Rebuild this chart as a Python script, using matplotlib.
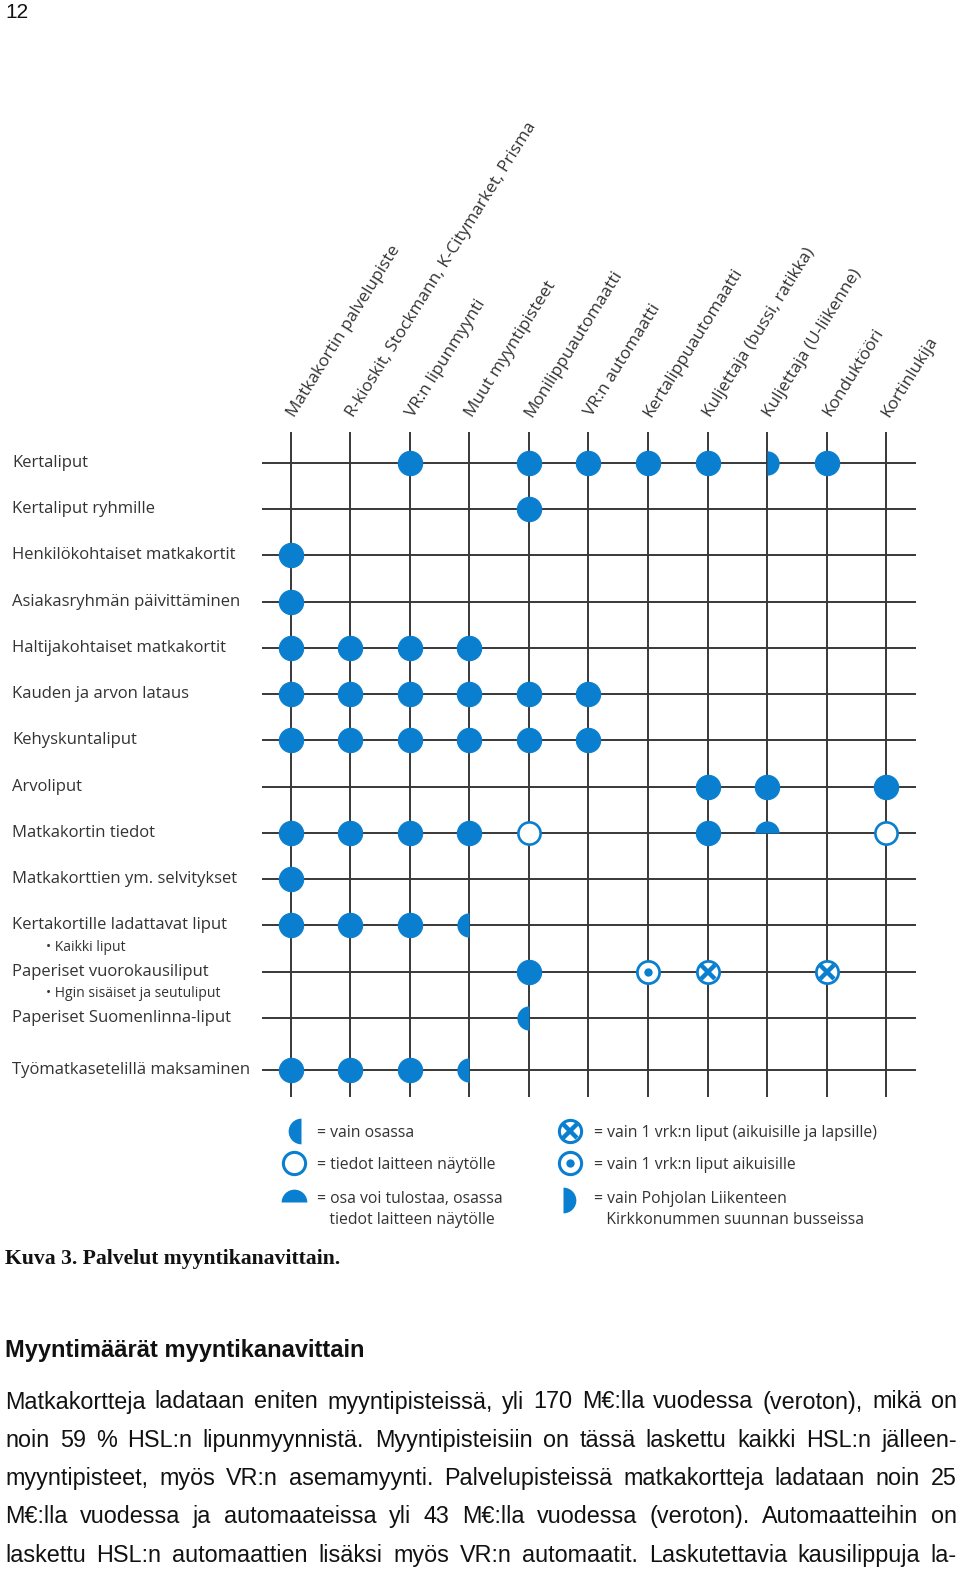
import matplotlib
matplotlib.use("Agg")
import matplotlib.pyplot as plt
import numpy as np

# ---------------- data ----------------
channels = ["Matkakortin palvelupiste", "R-kioskit, Stockmann, K-Citymarket, Prisma",
            "VR:n lipunmyynti", "Muut myyntipisteet", "Monilippuautomaatti",
            "VR:n automaatti", "Kertalippuautomaatti", "Kuljettaja (bussi, ratikka)",
            "Kuljettaja (U-liikenne)", "Konduktööri", "Kortinlukija"]
products = ["Kertaliput", "Kertaliput ryhmille", "Henkilökohtaiset matkakortit",
            "Asiakasryhmän päivittäminen", "Haltijakohtaiset matkakortit",
            "Kauden ja arvon lataus", "Kehyskuntaliput", "Arvoliput",
            "Matkakortin tiedot", "Matkakorttien ym. selvitykset",
            "Kertakortille ladattavat liput", "Paperiset vuorokausiliput",
            "Paperiset Suomenlinna-liput", "Työmatkasetelillä maksaminen"]
sub_notes = {10: "• Kaikki liput", 11: "• Hgin sisäiset ja seutuliput"}

# channel indices per product row, by symbol type
full_marks = [[2, 4, 5, 6, 7, 9], [4], [0], [0], [0, 1, 2, 3], [0, 1, 2, 3, 4, 5],
              [0, 1, 2, 3, 4, 5], [7, 8, 10], [0, 1, 2, 3, 7], [0], [0, 1, 2], [4], [], [0, 1, 2]]
left_half_marks = {10: [3], 12: [4], 13: [3]}      # vain osassa
right_half_marks = {0: [8]}                         # vain Pohjolan Liikenteen ...
top_half_marks = {8: [8]}                           # osa voi tulostaa ...
open_marks = {8: [4, 10]}                           # tiedot laitteen näytölle
cross_marks = {11: [7, 9]}                          # vain 1 vrk:n liput (aik. ja lapsille)
dot_marks = {11: [6]}                               # vain 1 vrk:n liput aikuisille

legend_left = ["= vain osassa", "= tiedot laitteen näytölle",
               "= osa voi tulostaa, osassa\n   tiedot laitteen näytölle"]
legend_right = ["= vain 1 vrk:n liput (aikuisille ja lapsille)",
                "= vain 1 vrk:n liput aikuisille",
                "= vain Pohjolan Liikenteen\n   Kirkkonummen suunnan busseissa"]

caption = "Kuva 3. Palvelut myyntikanavittain."
heading = "Myyntimäärät myyntikanavittain"
body_lines = [
    "Matkakortteja ladataan eniten myyntipisteissä, yli 170 M€:lla vuodessa (veroton), mikä on",
    "noin 59 % HSL:n lipunmyynnistä. Myyntipisteisiin on tässä laskettu kaikki HSL:n jälleen-",
    "myyntipisteet, myös VR:n asemamyynti. Palvelupisteissä matkakortteja ladataan noin 25",
    "M€:lla vuodessa ja automaateissa yli 43 M€:lla vuodessa (veroton). Automaatteihin on",
    "laskettu HSL:n automaattien lisäksi myös VR:n automaatit. Laskutettavia kausilippuja la-",
]

# ---------------- style ----------------
BLUE = "#0a7fcf"
GRID = "#383838"
LABEL_FONT = ["Open Sans", "DejaVu Sans"]
LABEL_COLOR = "#333333"

W, H = 960, 1569
fig = plt.figure(figsize=(W / 100, H / 100), dpi=100)

# page axes in pixel coordinates (for the text of the page)
page = fig.add_axes([0, 0, 1, 1])
page.set_xlim(0, W)
page.set_ylim(H, 0)
page.axis("off")

# grid axes
left_px, right_px, top_px, bot_px = 262, 916, 432, 1097
ax = fig.add_axes([left_px / W, 1 - bot_px / H, (right_px - left_px) / W, (bot_px - top_px) / H])
ncol = len(channels)
row_y = np.arange(len(products), dtype=float)
row_y[-1] += 0.12
col_x = np.arange(ncol)
ax.set_xlim(-0.487, ncol - 1 + 0.504)
ax.set_ylim(row_y[-1] + 0.59, -0.67)
ax.set_facecolor("none")
for s in ax.spines.values():
    s.set_visible(False)

ax.hlines(row_y, *ax.get_xlim(), color=GRID, lw=1.4, zorder=1)
ax.vlines(col_x, *ax.get_ylim(), color=GRID, lw=1.4, zorder=1)

MS = 17.5  # marker size in points
for r, cols in enumerate(full_marks):
    if cols:
        ax.plot(cols, [row_y[r]] * len(cols), "o", ms=MS, mfc=BLUE, mec=BLUE, mew=0.8,
                ls="none", zorder=3)


def half(marks, style):
    for r, cols in marks.items():
        ax.plot(cols, [row_y[r]] * len(cols), "o", ms=MS, fillstyle=style, mfc=BLUE,
                mfcalt="none", mew=0, ls="none", zorder=3)


half(left_half_marks, "left")
half(right_half_marks, "right")
half(top_half_marks, "top")

for r, cols in open_marks.items():
    ax.plot(cols, [row_y[r]] * len(cols), "o", ms=MS - 1.5, mfc="white", mec=BLUE, mew=1.9,
            ls="none", zorder=3)
for r, cols in cross_marks.items():
    ax.plot(cols, [row_y[r]] * len(cols), "o", ms=MS - 1.5, mfc="white", mec=BLUE, mew=2.0,
            ls="none", zorder=3)
    ax.plot(cols, [row_y[r]] * len(cols), "x", ms=MS - 8, mec=BLUE, mew=3.2,
            ls="none", zorder=4)
for r, cols in dot_marks.items():
    ax.plot(cols, [row_y[r]] * len(cols), "o", ms=MS - 1.5, mfc="white", mec=BLUE, mew=2.0,
            ls="none", zorder=3)
    ax.plot(cols, [row_y[r]] * len(cols), "o", ms=6, mfc=BLUE, mec=BLUE, mew=0,
            ls="none", zorder=4)

# column labels (top ticks)
ax.xaxis.set_ticks_position("top")
ax.set_xticks(col_x)
ax.set_xticklabels(channels, rotation=58, ha="left", va="center", rotation_mode="anchor",
                   family=LABEL_FONT, fontsize=12.4, color=LABEL_COLOR)
ax.tick_params(axis="x", length=0, pad=12)

# row labels (left ticks, left aligned at x=12 px)
ax.set_yticks(row_y)
ax.set_yticklabels(products, ha="left", va="center", family=LABEL_FONT, fontsize=12.0,
                   color=LABEL_COLOR)
ax.tick_params(axis="y", length=0, pad=(left_px - 12) * 0.72)
for r, note in sub_notes.items():
    ax.annotate(note, xy=(0, row_y[r]), xycoords=("axes fraction", "data"),
                xytext=(46 - left_px, -22), textcoords="offset pixels", ha="left",
                va="center", family=LABEL_FONT, fontsize=10, color=LABEL_COLOR)

# ---------------- legend ----------------
leg_rows_y = [1131, 1163, 1197]
kw_txt = dict(family=LABEL_FONT, fontsize=11.3, color=LABEL_COLOR, va="top", linespacing=1.45)
left_styles = ["left", "open", "top"]
right_styles = ["cross", "dot", "right"]
key_x = {"left": 301, "open": 294, "top": 294, "cross": 570, "dot": 570, "right": 563}
key_dy = {"left": 0, "open": 0, "top": 5, "cross": 0, "dot": 0, "right": 3}


def key(x, y, style):
    if style in ("left", "right", "top"):
        page.plot([x], [y], "o", ms=MS + 1, fillstyle=style,
                  mfc=BLUE, mfcalt="none", mew=0)
    else:
        page.plot([x], [y], "o", ms=MS - 1.5, mfc="white", mec=BLUE, mew=2.2)
        if style == "cross":
            page.plot([x], [y], "x", ms=MS - 8, mec=BLUE, mew=3.2)
        elif style == "dot":
            page.plot([x], [y], "o", ms=6, mfc=BLUE, mew=0)


for i, (lab, st) in enumerate(zip(legend_left, left_styles)):
    key(key_x[st], leg_rows_y[i] + key_dy[st], st)
    page.text(317, leg_rows_y[i] - 6, lab, **kw_txt)
for i, (lab, st) in enumerate(zip(legend_right, right_styles)):
    key(key_x[st], leg_rows_y[i] + key_dy[st], st)
    page.text(594, leg_rows_y[i] - 6, lab, **kw_txt)

# ---------------- page text ----------------
page.text(5, 12, "12", family="Liberation Sans", fontsize=15, va="center", ha="left",
          color="#111111")
page.text(5, 1259, caption, family="Liberation Serif", fontweight="bold", fontsize=15.6,
          va="center", ha="left", color="#111111")
page.text(5, 1350, heading, family="Liberation Sans", fontweight="bold", fontsize=17,
          va="center", ha="left", color="#111111")

renderer = fig.canvas.get_renderer()
body_kw = dict(family="Liberation Sans", fontsize=16.8, va="center", ha="left", color="#111111")
x0, x1 = 5, 957
for i, line in enumerate(body_lines):
    y = 1402 + i * 38.3
    words = line.split(" ")
    texts = [page.text(0, y, w, **body_kw) for w in words]
    widths = [t.get_window_extent(renderer).width for t in texts]
    gap = (x1 - x0 - sum(widths)) / (len(words) - 1)
    x = x0
    for t, wd in zip(texts, widths):
        t.set_x(x)
        x += wd + gap

fig.savefig("out.png", dpi=100)
